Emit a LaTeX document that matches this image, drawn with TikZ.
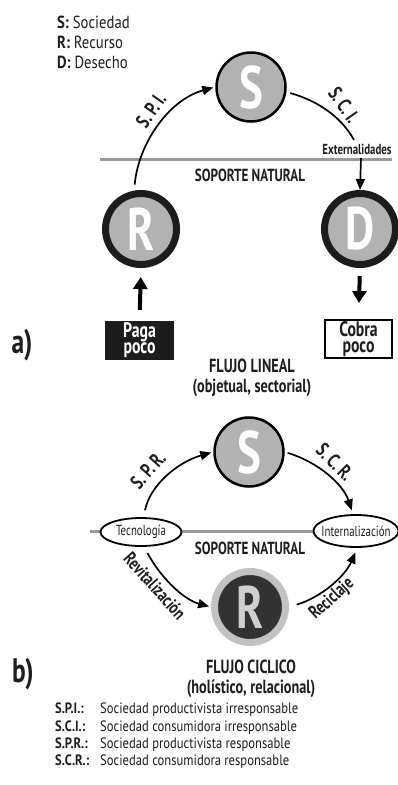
\documentclass[tikz,border=0pt]{standalone}
\usepackage{fontspec}
\setmainfont{PT Sans}[FakeStretch=0.75]
\newfontfamily\legfont{PT Sans}[FakeStretch=0.84]
\usetikzlibrary{arrows.meta,shapes.geometric}
\definecolor{cgray}{HTML}{B2B2B2}
\definecolor{lgray}{HTML}{9A9A9A}
\definecolor{dk}{HTML}{1C1C1C}
\definecolor{rdark}{HTML}{323232}
\definecolor{rhalo}{HTML}{C2C2C2}
\definecolor{rlet}{HTML}{CFCFCF}
\definecolor{txt}{HTML}{1E1E1E}
\newcommand\myfs[2]{\fontsize{#1}{#2}\selectfont}
\begin{document}
\begin{tikzpicture}[x=1pt,y=-1pt,
  cirS/.style={circle, draw=black, line width=2.5pt, fill=cgray, minimum size=69pt, inner sep=0pt, text=white, font=\myfs{60}{60}\bfseries},
  cirR/.style={circle, draw=dk, line width=7pt, fill=cgray, minimum size=71pt, inner sep=0pt, text=white, font=\myfs{60}{60}\bfseries},
  cirRb/.style={circle, draw=rhalo, line width=7pt, fill=rdark, minimum size=71pt, inner sep=0pt, text=rlet, font=\myfs{60}{60}\bfseries},
  ell/.style={ellipse, draw=black, line width=1.8pt, fill=white, inner sep=0pt},
  elltxt/.style={font=\myfs{14.5}{14.5}, text=txt, inner sep=0pt},
  arr/.style={-{Triangle[length=11pt,width=9pt]}, line width=1.7pt},
  bigarr/.style={-{Triangle[length=12pt,width=14pt]}, line width=4pt},
  soil/.style={line width=3pt, draw=lgray},
  lbl/.style={font=\myfs{20}{20}\bfseries, text=txt, inner sep=0pt},
  sn/.style={font=\myfs{17.5}{17.5}\bfseries, text=txt, inner sep=0pt},
  ttl/.style={font=\myfs{19}{19.5}\bfseries, text=txt, align=center, inner sep=0pt},
  leg/.style={font=\legfont\myfs{17.5}{17.5}, text=txt, anchor=west, inner sep=0pt},
  leg2/.style={font=\legfont\myfs{15}{15}, text=txt, anchor=west, inner sep=0pt},
  part/.style={font=\myfs{34}{34}\bfseries, text=txt, inner sep=0pt},
  paybox/.style={rectangle, fill=dk, minimum width=69pt, minimum height=39pt, inner sep=0pt, text=white, align=center, font=\myfs{21}{16}\bfseries},
  charge/.style={rectangle, draw=black, line width=2pt, fill=white, minimum width=67pt, minimum height=38pt, inner sep=0pt, text=txt, align=center, font=\myfs{21}{16}\bfseries}
]
\useasboundingbox (0,0) rectangle (397,785);
\fill[white] (0,0) rectangle (397,785);

% top legend
\node[leg] (l1) at (57,22) {\textbf{S:} Sociedad};
\node[leg] (l2) at (57,42) {\textbf{R:} Recurso};
\node[leg] (l3) at (57,62) {\textbf{D:} Desecho};

% ---------- a) linear flow ----------
\coordinate (gl1) at (100,159);
\coordinate (gr1) at (392,159);
\draw[soil] (gl1) -- (gr1);
\node[sn] (sn1) at (250,175) {SOPORTE NATURAL};

\node[cirS] (S1) at (251,87) {S};
\node[cirR] (R1) at (141,229) {R};
\node[cirR] (D1) at (360,229) {D};

\draw[arr, shorten <=6pt, shorten >=2pt] (R1.100) .. controls (138,145) and (168,100) .. (S1.west);
\coordinate (sciend) at (354,140);
\draw[line width=1.7pt, shorten <=4pt] (S1.-8) .. controls (322,102) and (343,120) .. (sciend);
\node[font=\myfs{14.5}{14.5}\bfseries, text=txt, inner sep=0pt] (ext) at (357,149) {Externalidades};
\coordinate (extarr) at (361,158);
\draw[arr] (extarr) -- (D1.north);

\node[lbl, rotate=55] (spi) at (151,110) {S.\,P.\,I.};
\node[lbl, rotate=-55] (sci) at (344,105) {S.\,C.\,I.};

\node[paybox] (paga) at (139.5,340.5) {Paga\\poco};
\node[charge] (cobra) at (358.5,339) {Cobra\\poco};
\draw[bigarr, shorten <=11pt, shorten >=9pt] (paga.north) -- (R1.south);
\draw[bigarr, shorten <=8pt, shorten >=16pt] (D1.south) -- (cobra.north);

\node[part] (pa) at (22,345) {a)};
\node[ttl] (fl) at (252,378) {FLUJO LINEAL\\(objetual, sectorial)};

% ---------- b) cyclic flow ----------
\coordinate (gl2) at (90,531);
\coordinate (gr2) at (397,531);
\draw[soil] (gl2) -- (gr2);
\node[sn] (sn2) at (250,548) {SOPORTE NATURAL};

\node[cirS] (S2) at (249,452) {S};
\node[cirRb] (R2) at (250,607) {R};
\node[ell, minimum width=81pt, minimum height=28pt] (tec) at (141,532) {};
\node[elltxt] (tect) at (tec) {Tecnología};
\node[ell, minimum width=85pt, minimum height=32pt] (int) at (356,531) {};
\node[elltxt] (intt) at (int) {Internalización};

\draw[arr, shorten <=7pt, shorten >=2pt] (tec.80) .. controls (150,485) and (178,462) .. (S2.west);
\draw[arr, shorten <=3pt, shorten >=4pt] (S2.east) .. controls (318,462) and (343,484) .. (int.100);
\draw[arr, shorten <=7pt, shorten >=2pt] (tec.-78) .. controls (162,580) and (185,600) .. (R2.west);
\draw[arr, shorten <=8pt, shorten >=5pt] (R2.east) .. controls (322,597) and (345,576) .. (int.-85);

\node[lbl, rotate=48] (spr) at (148,470) {S.\,P.\,R.};
\node[lbl, rotate=-45] (scr) at (335,462) {S.\,C.\,R.};
\node[lbl, font=\myfs{18.5}{18.5}\bfseries, rotate=-48] (rev) at (155,586) {Revitalización};
\node[lbl, font=\myfs{18.5}{18.5}\bfseries, rotate=42] (rec) at (332,599) {Reciclaje};

\node[part] (pb) at (23,674) {b)};
\node[ttl] (fc) at (251,679) {FLUJO CICLICO\\(holístico, relacional)};

% bottom legend
\node[leg2] (b1) at (55,710) {\makebox[45pt][l]{\bfseries S.P.I.:}Sociedad productivista irresponsable};
\node[leg2] (b2) at (55,728) {\makebox[45pt][l]{\bfseries S.C.I.:}Sociedad consumidora irresponsable};
\node[leg2] (b3) at (55,745) {\makebox[45pt][l]{\bfseries S.P.R.:}Sociedad productivista responsable};
\node[leg2] (b4) at (55,762) {\makebox[45pt][l]{\bfseries S.C.R.:}Sociedad consumidora responsable};
\end{tikzpicture}
\end{document}
